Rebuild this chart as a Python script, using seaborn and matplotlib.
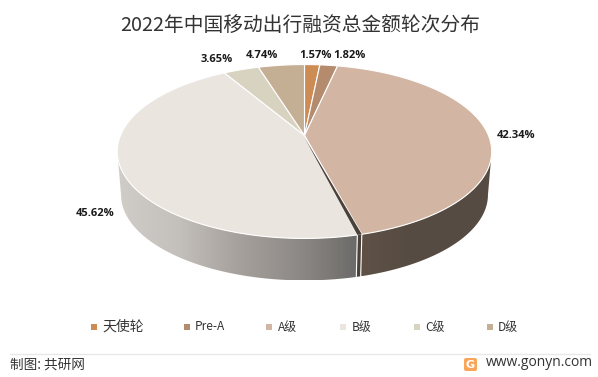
import numpy as np
import seaborn as sns
import matplotlib
matplotlib.use("Agg")
import matplotlib.pyplot as plt
from matplotlib.colors import LinearSegmentedColormap
from matplotlib.patches import Polygon, FancyBboxPatch

title = "2022年中国移动出行融资总金额轮次分布"
categories = ["天使轮", "Pre-A", "A级", "B级", "C级", "D级"]
values = [1.57, 1.82, 42.34, 45.62, 3.65, 4.74]
labels = ["1.57%", "1.82%", "42.34%", "45.62%", "3.65%", "4.74%"]
colors = ["#CE8C55", "#B58B6E", "#D2B6A3", "#EBE5E0", "#D8D3C0", "#C4AF95"]
label_xy = [(316, 55), (349, 55), (516, 135), (95, 213), (217, 59), (262, 56)]
legend_marker_x = [94, 187, 269, 343, 417, 490]
legend_text_x = [102, 195, 278, 352, 425, 498]
source = "制图: 共研网"
site = "www.gonyn.com"

sns.set_theme(style="white")
plt.rcParams["font.family"] = ["Noto Sans CJK SC", "DejaVu Sans"]

fig = plt.figure(figsize=(5.98, 3.77), dpi=100, facecolor="white")
ax = fig.add_axes([0, 0, 1, 1])
ax.set_xlim(0, 598)
ax.set_ylim(377, 0)
ax.axis("off")

# projected circle geometry
CX, CY, A, B, Q, DEPTH = 304.5, 135.5, 184.0, 84.0, 0.184, 43.5
SIDE = np.degrees(np.arccos(-Q))  # angle of the ellipse's right-most point


def rim(theta, depth=0.0):
    t = np.radians(theta)
    X, Y = np.sin(t), np.cos(t)
    d = 1 + Q * Y
    f = depth / 43.5
    sx = 1 - 0.02 * f
    sy = 1 - 0.015 * f
    return CX + sx * A * X / d, CY - sy * B * Y / d + depth


def arc(t0, t1, depth=0.0, n=160):
    return np.column_stack(rim(np.linspace(t0, t1, n), depth))


def wall(t0, t1, stops):
    top = arc(t0, t1)
    bot = arc(t0, t1, DEPTH)[::-1]
    pts = np.vstack([top, bot])
    poly = Polygon(pts, closed=True, fc="none", ec="none", transform=ax.transData)
    ax.add_patch(poly)
    x0, x1 = pts[:, 0].min(), pts[:, 0].max()
    y0, y1 = pts[:, 1].min(), pts[:, 1].max()
    cmap = LinearSegmentedColormap.from_list("w", stops)
    im = ax.imshow(np.linspace(0, 1, 300)[None, :], extent=[x0, x1, y1, y0],
                   aspect="auto", cmap=cmap, zorder=1)
    im.set_clip_path(poly)


edges = 360 * np.concatenate([[0], np.cumsum(values)]) / np.sum(values)
a_end, b_start = edges[3] + 0.1, edges[3] + 1.3

# side walls (front half only, from each silhouette point)
wall(SIDE, a_end, ["#5f5146", "#574c43", "#564b42", "#574c43"])
wall(b_start, 360 - SIDE, ["#d0ccc8", "#c4c0bb", "#a6a19c", "#8e8a87", "#6c6a68"])

# dark cut face
face = np.vstack([arc(a_end, b_start), arc(b_start, a_end, DEPTH)])
ax.add_patch(Polygon(face, closed=True, fc="#4a423a", ec="none", zorder=2))
ax.add_patch(Polygon(np.vstack([[[CX, CY + 2]], arc(a_end, b_start)]), closed=True,
                     fc="#4a423a", ec="none", zorder=5))

# white seams on the wall
for t in (a_end, b_start):
    p = np.vstack([arc(t, t, 0, 2)[0], arc(t, t, DEPTH, 2)[0]])
    ax.plot(p[:, 0], p[:, 1], color="white", lw=0.8, zorder=3)

# top faces
starts = list(edges[:-1])
ends = list(edges[1:])
starts[3] = b_start
ends[2] = a_end
for c, t0, t1 in zip(colors, starts, ends):
    pts = np.vstack([[[CX, CY]], arc(t0, t1)])
    ax.add_patch(Polygon(pts, closed=True, fc=c, ec="white", lw=0.8, zorder=4))

for lab, (x, y) in zip(labels, label_xy):
    ax.text(x, y, lab, fontsize=8, fontweight="bold", color="#1a1a1a",
            ha="center", va="center", zorder=6, family="Open Sans")

ax.text(300, 26, title, fontsize=14.2, color="#333333", ha="center", va="center")

# legend
sns.scatterplot(x=legend_marker_x, y=[327] * 6, hue=categories, palette=colors,
                marker="s", s=18, linewidth=0, legend=False, ax=ax, zorder=6)
for name, x in zip(categories, legend_text_x):
    ax.text(x, 327, name, fontsize=10 if name == "天使轮" else 8.6, color="#333333",
            ha="left", va="center")

# footer
ax.plot([10, 590], [354, 354], color="#e8e8e8", lw=1)
ax.text(10, 365, source, fontsize=9.8, color="#333333", ha="left", va="center")
ax.add_patch(FancyBboxPatch((465, 359), 11, 11, boxstyle="round,pad=1,rounding_size=2",
                            fc="#F7A65B", ec="none"))
ax.text(470.5, 364.5, "G", fontsize=8, fontweight="bold", color="white",
        ha="center", va="center", family="DejaVu Sans")
ax.text(593, 363, site, fontsize=10, color="#333333", ha="right", va="center",
        family="Open Sans")

ax.set_xlim(0, 598)
ax.set_ylim(377, 0)
fig.savefig("out.png", dpi=100, facecolor="white")
